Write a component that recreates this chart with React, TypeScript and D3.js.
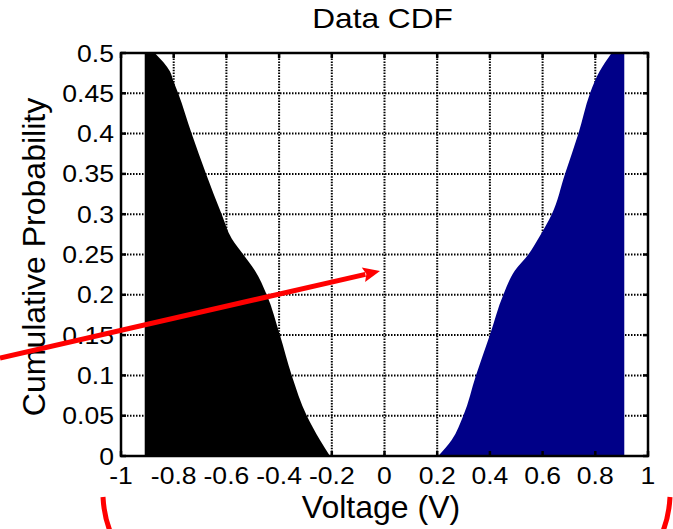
import React from "react";
import * as d3 from "d3";

const W = 673;
const H = 529;

// Cumulative probability levels (y) shared by both series
const probLevels = [0, 0.02, 0.05, 0.1, 0.15, 0.2, 0.23, 0.25, 0.27, 0.3, 0.35, 0.4, 0.45, 0.465, 0.477, 0.5];
// Negative-side voltages (black fill)
const negVoltage = [-0.207, -0.245, -0.295, -0.352, -0.397, -0.447, -0.492, -0.536, -0.58, -0.618, -0.677, -0.732, -0.783, -0.801, -0.814, -0.872];
// Positive-side voltages (blue fill)
const posVoltage = [0.204, 0.255, 0.299, 0.347, 0.4, 0.451, 0.495, 0.546, 0.584, 0.635, 0.685, 0.736, 0.78, 0.798, 0.816, 0.862];
// Outer limits of the fills
const negLimit = -0.91;
const posLimit = 0.91;

const xTicks = [-1, -0.8, -0.6, -0.4, -0.2, 0, 0.2, 0.4, 0.6, 0.8, 1];
const xTickLabels = ["-1", "-0.8", "-0.6", "-0.4", "-0.2", "0", "0.2", "0.4", "0.6", "0.8", "1"];
const yTicks = [0, 0.05, 0.1, 0.15, 0.2, 0.25, 0.3, 0.35, 0.4, 0.45, 0.5];
const yTickLabels = ["0", "0.05", "0.1", "0.15", "0.2", "0.25", "0.3", "0.35", "0.4", "0.45", "0.5"];

const title = "Data CDF";
const xLabel = "Voltage (V)";
const yLabel = "Cumulative Probability";

const M = { left: 121, right: 648, top: 53, bottom: 456 };
const FONT = "'Liberation Sans', Arial, Helvetica, sans-serif";
const SX = 1.13;

export default function App() {
  const x = d3.scaleLinear().domain([-1, 1]).range([M.left, M.right]);
  const y = d3.scaleLinear().domain([0, 0.5]).range([M.bottom, M.top]);

  const negData = probLevels.map((p, i) => ({ p, v: negVoltage[i] }));
  const posData = probLevels.map((p, i) => ({ p, v: posVoltage[i] }));

  const negArea = d3
    .area<{ p: number; v: number }>()
    .y((d) => y(d.p))
    .x0(() => x(negLimit))
    .x1((d) => x(d.v))
    .curve(d3.curveMonotoneY);
  const posArea = d3
    .area<{ p: number; v: number }>()
    .y((d) => y(d.p))
    .x0((d) => x(d.v))
    .x1(() => x(posLimit))
    .curve(d3.curveMonotoneY);

  // arrow annotation
  const a0 = { x: 0, y: 358 };
  const a1 = { x: 380, y: 271 };
  const dx = a1.x - a0.x;
  const dy = a1.y - a0.y;
  const len = Math.hypot(dx, dy);
  const ux = dx / len;
  const uy = dy / len;
  const headL = 17;
  const headW = 7.5;
  const bx = a1.x - ux * headL;
  const by = a1.y - uy * headL;
  const head = [
    [a1.x, a1.y],
    [bx - uy * headW, by + ux * headW],
    [bx + ux * 3, by + uy * 3],
    [bx + uy * headW, by - ux * headW],
  ]
    .map((p) => p.join(","))
    .join(" ");

  const tickLen = 5;

  return (
    <svg
      width={W}
      height={H}
      style={{ position: "absolute", left: 0, top: 0, background: "#fff" }}
      fontFamily={FONT}
    >
      <rect x={0} y={0} width={W} height={H} fill="#fff" />
      <rect x={M.left} y={M.top} width={M.right - M.left} height={M.bottom - M.top} fill="#fff" />

      {/* grid */}
      {yTicks.slice(1, -1).map((t) => (
        <line
          key={"gy" + t}
          x1={M.left}
          x2={M.right}
          y1={y(t)}
          y2={y(t)}
          stroke="#000"
          strokeWidth={2}
          strokeDasharray="1.5,1.5"
        />
      ))}
      {xTicks.slice(1, -1).map((t) => (
        <line
          key={"gx" + t}
          x1={x(t)}
          x2={x(t)}
          y1={M.top}
          y2={M.bottom}
          stroke="#000"
          strokeWidth={2}
          strokeDasharray="1.5,1.3"
        />
      ))}

      {/* fills */}
      <path d={negArea(negData) || ""} fill="#000" />
      <path d={posArea(posData) || ""} fill="#000088" />

      {/* frame */}
      <rect
        x={M.left}
        y={M.top}
        width={M.right - M.left}
        height={M.bottom - M.top}
        fill="none"
        stroke="#000"
        strokeWidth={2.5}
      />

      {/* ticks */}
      {yTicks.map((t) => (
        <g key={"ty" + t}>
          <line x1={M.left} x2={M.left + tickLen} y1={y(t)} y2={y(t)} stroke="#000" strokeWidth={2.5} />
          <line x1={M.right} x2={M.right - tickLen} y1={y(t)} y2={y(t)} stroke="#000" strokeWidth={2.5} />
        </g>
      ))}
      {xTicks.map((t) => (
        <g key={"tx" + t}>
          <line x1={x(t)} x2={x(t)} y1={M.bottom} y2={M.bottom - tickLen} stroke="#000" strokeWidth={2.5} />
          <line x1={x(t)} x2={x(t)} y1={M.top} y2={M.top + tickLen} stroke="#000" strokeWidth={2.5} />
        </g>
      ))}

      {/* tick labels */}
      {yTicks.map((t, i) => (
        <text
          key={"ly" + t}
          transform={`translate(${M.left - 7},${y(t) + 8.5}) scale(${SX},1)`}
          textAnchor="end"
          fontSize={23.5}
          fill="#000"
        >
          {yTickLabels[i]}
        </text>
      ))}
      {xTicks.map((t, i) => (
        <text
          key={"lx" + t}
          transform={`translate(${x(t)},${M.bottom + 28}) scale(${SX},1)`}
          textAnchor="middle"
          fontSize={23.5}
          fill="#000"
        >
          {xTickLabels[i]}
        </text>
      ))}

      {/* title & axis labels */}
      <text
        transform={`translate(${(M.left + M.right) / 2 - 2},28) scale(${SX},1)`}
        textAnchor="middle"
        fontSize={28}
        fill="#000"
      >
        {title}
      </text>
      <text x={381} y={518} textAnchor="middle" fontSize={32} fill="#000">
        {xLabel}
      </text>
      <text
        transform={`translate(45,257) rotate(-90)`}
        textAnchor="middle"
        fontSize={32}
        fill="#000"
      >
        {yLabel}
      </text>

      {/* red annotations */}
      <line x1={a0.x} y1={a0.y} x2={bx + ux * 2} y2={by + uy * 2} stroke="#ff0000" strokeWidth={5} />
      <polygon points={head} fill="#ff0000" />
      <path d="M103,497 Q104,516 110,531" fill="none" stroke="#ff0000" strokeWidth={5} />
      <path d="M670,497 Q669,516 663,531" fill="none" stroke="#ff0000" strokeWidth={5} />
    </svg>
  );
}
